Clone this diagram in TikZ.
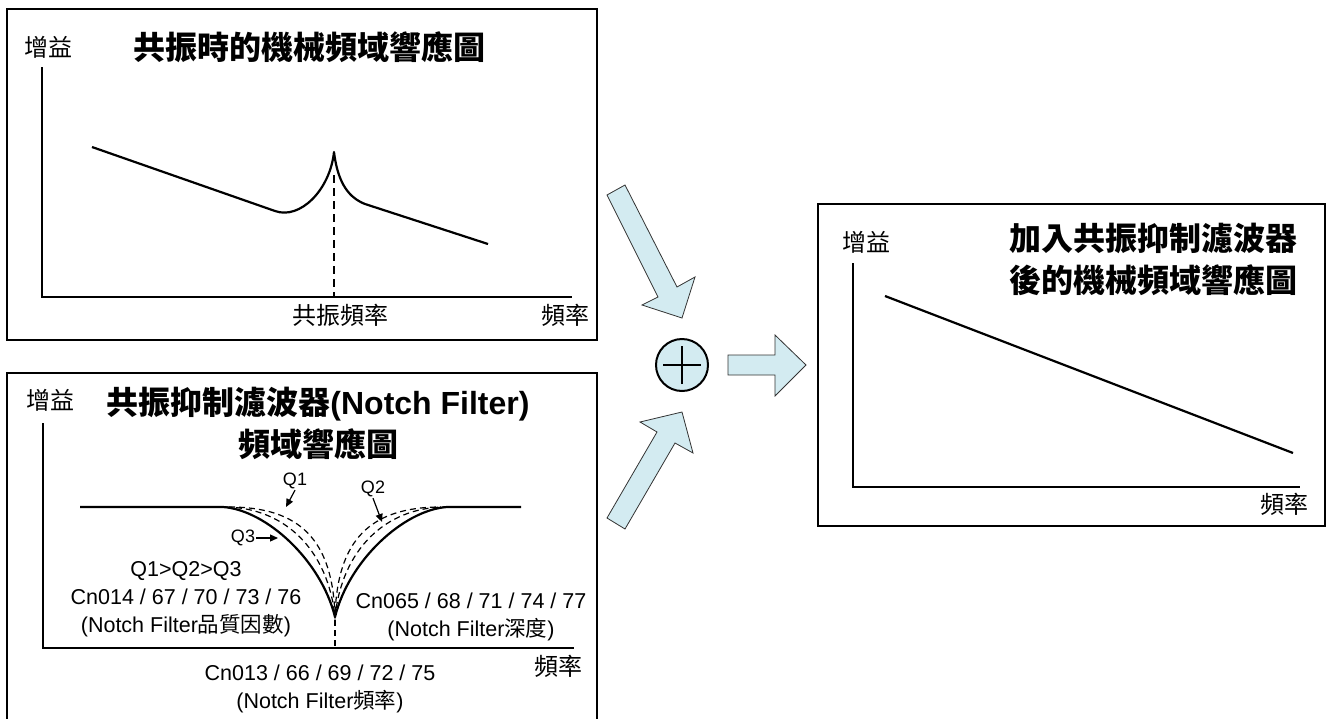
\documentclass[tikz,border=0pt]{standalone}
\usepackage{fontspec}
\setmainfont{Liberation Sans}
\newfontfamily\cjk{Noto Sans CJK TC}
\usetikzlibrary{arrows.meta,positioning}
\definecolor{arrowblue}{RGB}{211,235,241}

\begin{document}
\begin{tikzpicture}[x=1pt, y=-1pt,
        panel/.style={draw=black, line width=1.8pt},
        axis/.style={line width=2pt},
        curve/.style={line width=2.2pt, line join=round},
        guide/.style={line width=1.3pt, dash pattern=on 8pt off 5pt},
        qcurve/.style={line width=1.2pt, dash pattern=on 6pt off 4pt},
        title/.style={font=\bfseries\fontsize{32}{42}\selectfont, align=center},
        axislabel/.style={font=\cjk\fontsize{24}{28}\selectfont},
        param/.style={font=\fontsize{21.5}{28}\selectfont, align=center},
        qlabel/.style={font=\fontsize{18}{20}\selectfont, inner sep=1pt},
        qarrow/.style={-{Triangle[length=8pt,width=7pt]}, line width=1.2pt},
        blockarrow/.style={draw=black!80, line width=0.8pt, fill=arrowblue, line join=miter},
      ]
      \useasboundingbox (0,0) rectangle (1330,718);
      % resonance panel
      \draw [panel] (7,9) rectangle (597,340);
      \node [axislabel] (gaina) at (48,47) {增益};
      \node [title, font=\cjk\bfseries\fontsize{32}{42}\selectfont] (titlea) at (309,47) {共振時的機械頻域響應圖};
      \draw [axis] (42,67) |- (572,297);
      \draw [curve] (92,147) -- (275,211) .. controls (300,220) and (330,190) .. (334,152)
        .. controls (338,185) and (350,198) .. (365,204) -- (488,244);
      \draw [guide] (334,175) -- (334,297);
      \node [axislabel] (resfreq) at (340,315) {共振頻率};
      \node [axislabel] (freqa) at (565,315) {頻率};
      % notch filter panel
      \draw [panel] (7,725) |- (597,373) -- (597,725);
      \node [axislabel] (gainb) at (51,400) {增益};
      \node [title] (titleb) at (318,423) {{\cjk 共振抑制濾波器}(Notch Filter)\\{\cjk 頻域響應圖}};
      \draw [axis] (43,423) |- (574,648);
      \draw [curve] (80,507) -- (223,507) .. controls (266,510) and (321,560) .. (335,617)
        .. controls (349,560) and (404,510) .. (447,507) -- (521,507);
      \draw [qcurve] (226,507) .. controls (285,508) and (328,550) .. (335,617)
        .. controls (342,550) and (385,508) .. (444,507);
      \draw [qcurve] (229,507) .. controls (300,507) and (333,540) .. (335,617)
        .. controls (337,540) and (370,507) .. (441,507);
      \draw [guide, dash pattern=on 6pt off 4pt] (335,620) -- (335,648);
      \node [qlabel] (qone) at (295,481) {Q1};
      \node [qlabel] (qtwo) at (373,489) {Q2};
      \node [qlabel] (qthree) at (243,538) {Q3};
      \coordinate (qonetip) at (286,507);
      \coordinate (qtwotip) at (382,522);
      \coordinate (qthreetip) at (278,538);
      \draw [qarrow] (qone.south) -- (qonetip);
      \draw [qarrow] (qtwo.south) -- (qtwotip);
      \draw [qarrow] (qthree.east) -- (qthreetip);
      \node [param] (quality) at (186,599) {Q1>Q2>Q3\\Cn014 / 67 / 70 / 73 / 76\\(Notch Filter{\cjk 品質因數})};
      \node [param] (depth) at (471,617) {Cn065 / 68 / 71 / 74 / 77\\(Notch Filter{\cjk 深度})};
      \node [param] (notchfreq) at (320,689) {Cn013 / 66 / 69 / 72 / 75\\(Notch Filter{\cjk 頻率})};
      \node [axislabel] (freqb) at (558,666) {頻率};
      % summing junction
      \node [circle, draw, line width=2pt, fill=arrowblue, minimum size=52pt, inner sep=0pt] (plus) at (682,365) {};
      \draw [line width=2pt] ([xshift=-19pt]plus.center) -- ([xshift=19pt]plus.center);
      \draw [line width=2pt] ([yshift=-19pt]plus.center) -- ([yshift=19pt]plus.center);
      \draw [blockarrow] (607,195) -- (625,185) -- (677,287) -- (695,277) -- (682,318) -- (642,305) -- (658,297) -- cycle;
      \draw [blockarrow] (607,518) -- (657,432) -- (640,422) -- (682,412) -- (693,453) -- (675,443) -- (625,529) -- cycle;
      \draw [blockarrow] (728,355) -- (775,355) -- (775,335) -- (806,365) -- (775,396) -- (775,375) -- (728,375) -- cycle;
      % result panel
      \draw [panel] (818,204) rectangle (1325,526);
      \node [axislabel] (gainc) at (866,242) {增益};
      \node [title, font=\cjk\bfseries\fontsize{32}{42}\selectfont] (titlec) at (1153,259) {加入共振抑制濾波器\\後的機械頻域響應圖};
      \draw [axis] (853,263) |- (1300,487);
      \draw [curve] (885,296) -- (1293,453);
      \node [axislabel] (freqc) at (1284,504) {頻率};
    \end{tikzpicture}
\end{document}
